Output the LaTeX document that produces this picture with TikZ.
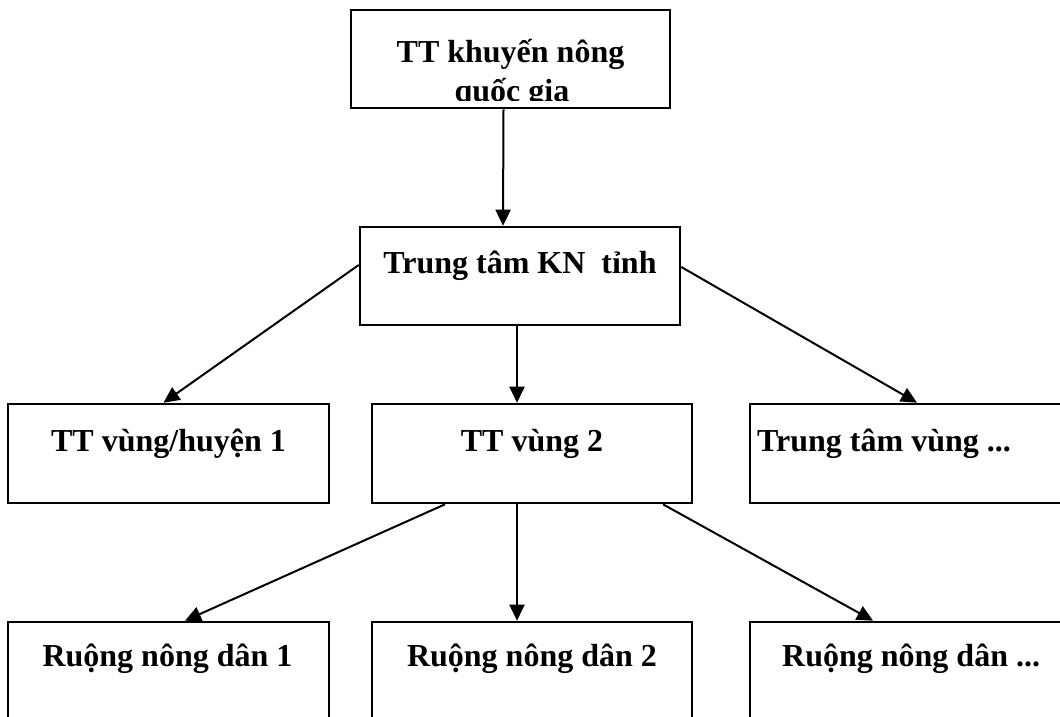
\documentclass[tikz,border=0pt]{standalone}
\usepackage{fontspec}
\setmainfont{Liberation Serif}
\usetikzlibrary{arrows.meta}
\begin{document}
\begin{tikzpicture}[x=1pt,y=-1pt,
  box/.style={draw, line width=2.6pt, inner sep=0pt, minimum height=98pt, minimum width=320pt},
  lbl/.style={font=\bfseries\fontsize{32}{35}\selectfont, inner sep=0pt},
  conn/.style={line width=2pt, -{Triangle[length=16pt,width=15pt]}}]
\useasboundingbox (0,0) rectangle (1060,717);
\clip (0,0) rectangle (1060,717);
\fill[white] (0,0) rectangle (1060,717);
% boxes
\node[box, minimum width=319pt] (b0) at (510.5,59) {};
\node[box] (b2) at (520,276) {};
\node[box, minimum width=321pt, minimum height=99pt] (b3l) at (168.5,453.5) {};
\node[box, minimum height=99pt] (b3m) at (532,453.5) {};
\node[box, minimum height=99pt] (b3r) at (910,453.5) {};
\node[box, minimum width=321pt] (b4l) at (168.5,671) {};
\node[box] (b4m) at (532,671) {};
\node[box] (b4r) at (910,671) {};
% texts
\begin{scope}
\clip (352,11) rectangle (669,100.5);
\node[lbl, anchor=base] (t0a) at (510.5,63) {TT khuyến nông};
\node[lbl, anchor=base] (t0b) at (512,101) {quốc gia};
\end{scope}
\node[lbl, anchor=base] (t2) at (520,273) {Trung tâm KN\ \ tỉnh};
\node[lbl, anchor=base] (t3l) at (168.5,451) {TT vùng/huyện 1};
\node[lbl, anchor=base] (t3m) at (532,451) {TT vùng 2};
\node[lbl, anchor=base west] (t3r) at (757,451) {Trung tâm vùng ...};
\node[lbl, anchor=base] (t4l) at (167.5,666) {Ruộng nông dân 1};
\node[lbl, anchor=base] (t4m) at (532,666) {Ruộng nông dân 2};
\node[lbl, anchor=base west] (t4r) at (782,666) {Ruộng nông dân ...};
% connectors
\draw[conn] ([xshift=-7pt]b0.south) -- ([xshift=-17pt]b2.north);
\draw[conn] ([yshift=11pt]b2.west) -- ([xshift=-5pt]b3l.north);
\draw[conn] ([xshift=-3pt]b2.south) -- ([xshift=-15pt]b3m.north);
\draw[conn] ([yshift=9pt]b2.east) -- ([xshift=7pt]b3r.north);
\draw[conn] ([xshift=-87pt]b3m.south) -- ([xshift=16.5pt]b4l.north);
\draw[conn] ([xshift=-15pt]b3m.south) -- ([xshift=-15pt]b4m.north);
\draw[conn] ([xshift=131pt]b3m.south) -- ([xshift=-37pt]b4r.north);
\end{tikzpicture}
\end{document}
